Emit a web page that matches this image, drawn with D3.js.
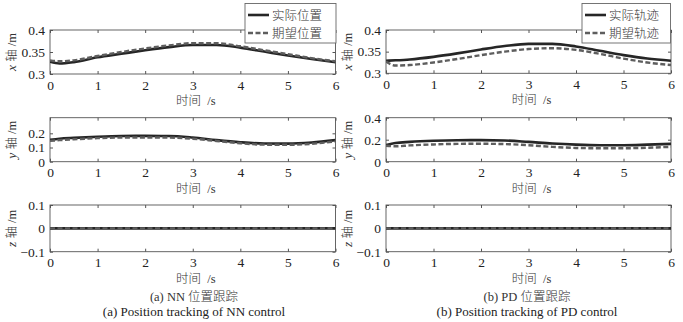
<!DOCTYPE html>
<html>
<head>
<meta charset="utf-8">
<script src="https://cdn.jsdelivr.net/npm/d3@7/dist/d3.min.js"></script>
<style>
  body { margin: 0; background: #fff; }
  svg { display: block; }
  .num { font-family: "Liberation Serif", "Times New Roman", serif; font-size: 13px; fill: #222; }
  .cjk { font-family: "Liberation Serif", "Noto Sans CJK SC", serif; font-size: 12.5px; font-weight: 300; fill: #333; }
  .tick text { font-family: "Liberation Serif", "Times New Roman", serif; font-size: 13.5px; fill: #222; }
</style>
</head>
<body>
<svg id="chart" width="683" height="322"></svg>
<script>
// Sample times (s)
const time = [0, 0.2, 0.5, 1, 1.5, 2, 2.5, 3, 3.5, 4, 4.5, 5, 5.5, 6];

// NN control: actual / desired position (m)
const nnXActual  = [0.328, 0.324, 0.327, 0.338, 0.346, 0.354, 0.361, 0.366, 0.366, 0.360, 0.351, 0.342, 0.334, 0.327];
const nnXDesired = [0.331, 0.329, 0.331, 0.341, 0.350, 0.358, 0.365, 0.370, 0.370, 0.363, 0.354, 0.345, 0.336, 0.329];
const nnYActual  = [0.155, 0.162, 0.168, 0.176, 0.181, 0.182, 0.181, 0.170, 0.152, 0.137, 0.128, 0.127, 0.135, 0.152];
const nnYDesired = [0.147, 0.152, 0.158, 0.166, 0.170, 0.171, 0.170, 0.162, 0.146, 0.130, 0.120, 0.119, 0.126, 0.143];
const nnZActual  = [0, 0, 0, 0, 0, 0, 0, 0, 0, 0, 0, 0, 0, 0];
const nnZDesired = [0, 0, 0, 0, 0, 0, 0, 0, 0, 0, 0, 0, 0, 0];

// PD control: actual / desired trajectory (m)
const pdXActual  = [0.329, 0.330, 0.332, 0.338, 0.346, 0.355, 0.363, 0.368, 0.368, 0.362, 0.352, 0.342, 0.334, 0.329];
const pdXDesired = [0.327, 0.318, 0.319, 0.325, 0.333, 0.342, 0.350, 0.356, 0.358, 0.354, 0.345, 0.334, 0.325, 0.319];
const pdYActual  = [0.150, 0.170, 0.180, 0.190, 0.195, 0.196, 0.193, 0.180, 0.165, 0.155, 0.150, 0.150, 0.155, 0.162];
const pdYDesired = [0.145, 0.140, 0.148, 0.157, 0.162, 0.163, 0.160, 0.150, 0.135, 0.125, 0.122, 0.122, 0.127, 0.135];
const pdZActual  = [0, 0, 0, 0, 0, 0, 0, 0, 0, 0, 0, 0, 0, 0];
const pdZDesired = [0, 0, 0, 0, 0, 0, 0, 0, 0, 0, 0, 0, 0, 0];

// Axis ticks
const timeTicks = [0, 1, 2, 3, 4, 5, 6];
const xTicks = [0.3, 0.35, 0.4];
const nnYTicks = [0, 0.1, 0.2];
const pdYTicks = [0, 0.2, 0.4];
const zTicks = [-0.1, 0, 0.1];

// Labels
const axisNames = ["x", "y", "z"];
const timeLabel = "时间\u00a0\u00a0/s";
const nnLegend = ["实际位置", "期望位置"];
const pdLegend = ["实际轨迹", "期望轨迹"];
const nnCaption = ["(a) NN 位置跟踪", "(a) Position tracking of NN control"];
const pdCaption = ["(b) PD 位置跟踪", "(b) Position tracking of PD control"];

const svg = d3.select("#chart");
const actualStyle = { stroke: "#262626", width: 2.6, dash: null };
const desiredStyle = { stroke: "#5e5e5e", width: 2.4, dash: "5,2.5" };
const serif = "Liberation Serif, Times New Roman, serif";

function fmt(v) {
  if (v === 0) return "0";
  return (v < 0 ? "\u2212" : "") + String(Math.abs(v));
}

function styleTicks(a) {
  a.select(".domain").remove();
  a.selectAll("line").attr("stroke", "#555");
  a.attr("font-family", serif).attr("font-size", 13.5);
}

function panel(opt) {
  const x = d3.scaleLinear().domain([0, 6]).range([opt.left, opt.right]);
  const y = d3.scaleLinear().domain(opt.domain).range([opt.bottom, opt.top]);
  const g = svg.append("g");

  // bottom axis with inward ticks
  g.append("g").attr("transform", `translate(0,${opt.bottom})`)
    .call(d3.axisBottom(x).tickValues(timeTicks).tickSize(-3).tickPadding(6).tickFormat(fmt))
    .call(styleTicks);
  // top ticks
  g.append("g").attr("transform", `translate(0,${opt.top})`)
    .call(d3.axisTop(x).tickValues(timeTicks).tickSize(-3).tickFormat(""))
    .call(styleTicks);
  // left axis
  g.append("g").attr("transform", `translate(${opt.left},0)`)
    .call(d3.axisLeft(y).tickValues(opt.ticks).tickSize(-3).tickPadding(5).tickFormat(fmt))
    .call(styleTicks);
  // right ticks
  g.append("g").attr("transform", `translate(${opt.right},0)`)
    .call(d3.axisRight(y).tickValues(opt.ticks).tickSize(-3).tickFormat(""))
    .call(styleTicks);

  // box
  g.append("rect").attr("x", opt.left).attr("y", opt.top)
    .attr("width", opt.right - opt.left).attr("height", opt.bottom - opt.top)
    .attr("fill", "none").attr("stroke", "#555").attr("stroke-width", 0.9);

  const line = d3.line().x((d, i) => x(time[i])).y(d => y(d)).curve(d3.curveMonotoneX);
  const clipId = "clip" + Math.round(opt.left) + "_" + Math.round(opt.top);
  g.append("clipPath").attr("id", clipId).append("rect")
    .attr("x", opt.left).attr("y", opt.top - 2).attr("width", opt.right - opt.left).attr("height", opt.bottom - opt.top + 4);
  [[opt.actual, actualStyle], [opt.desired, desiredStyle]].forEach(([vals, s]) => {
    g.append("path").datum(vals).attr("d", line)
      .attr("clip-path", `url(#${clipId})`)
      .attr("fill", "none").attr("stroke", s.stroke).attr("stroke-width", s.width)
      .attr("stroke-dasharray", s.dash);
  });

  // y label
  const cy = (opt.top + opt.bottom) / 2;
  const yl = g.append("text").attr("class", "cjk")
    .attr("transform", `translate(${opt.left - opt.ylabOffset},${cy}) rotate(-90)`)
    .attr("text-anchor", "middle").attr("dy", "0.35em");
  yl.append("tspan").attr("font-style", "italic").attr("font-family", serif).attr("font-size", 13.5).text(opt.name);
  yl.append("tspan").text(" 轴 /m");

  // x label
  g.append("text").attr("class", "cjk")
    .attr("x", (opt.left + opt.right) / 2 + 3).attr("y", opt.bottom + 31)
    .attr("text-anchor", "middle").text(timeLabel);
}

function legend(opt) {
  const g = svg.append("g");
  g.append("rect").attr("x", opt.x0).attr("y", 3.5).attr("width", opt.x1 - opt.x0).attr("height", 39.5)
    .attr("fill", "#fff").attr("stroke", "#666").attr("stroke-width", 0.9);
  [[actualStyle, 15], [desiredStyle, 33]].forEach(([s, yy], i) => {
    g.append("line").attr("x1", opt.x0 + 3).attr("x2", opt.x0 + 24).attr("y1", yy).attr("y2", yy)
      .attr("stroke", s.stroke).attr("stroke-width", s.width).attr("stroke-dasharray", s.dash);
    g.append("text").attr("class", "cjk").attr("x", opt.x0 + 27).attr("y", yy).attr("dy", "0.36em")
      .attr("font-size", 13.5).text(opt.labels[i]);
  });
}

function caption(cx, lines) {
  svg.append("text").attr("class", "cjk").attr("x", cx).attr("y", 301).attr("text-anchor", "middle")
    .attr("font-size", 13).text(lines[0]);
  svg.append("text").attr("class", "num").attr("x", cx).attr("y", 316).attr("text-anchor", "middle")
    .attr("font-size", 13).text(lines[1]);
}

const cols = [
  { left: 50, right: 335.5, ylab: 38, yTicks: nnYTicks, yDom: [0, 0.31],
    data: [[nnXActual, nnXDesired], [nnYActual, nnYDesired], [nnZActual, nnZDesired]] },
  { left: 386, right: 671, ylab: 38, yTicks: pdYTicks, yDom: [0, 0.4],
    data: [[pdXActual, pdXDesired], [pdYActual, pdYDesired], [pdZActual, pdZDesired]] }
];
const rows = [
  { top: 30, bottom: 74 },
  { top: 117.7, bottom: 161.7 },
  { top: 205, bottom: 251.7 }
];

cols.forEach((c, ci) => {
  rows.forEach((r, ri) => {
    const domain = ri === 0 ? [0.3, 0.4] : ri === 1 ? c.yDom : [-0.1, 0.1];
    const ticks = ri === 0 ? xTicks : ri === 1 ? c.yTicks : zTicks;
    panel({ left: c.left, right: c.right, top: r.top, bottom: ri === 0 && ci === 1 ? 73.3 : r.bottom,
      domain, ticks, name: axisNames[ri], ylabOffset: c.ylab,
      actual: c.data[ri][0], desired: c.data[ri][1] });
  });
});

legend({ x0: 245, x1: 336, labels: nnLegend });
legend({ x0: 582, x1: 670.5, labels: pdLegend });
caption(194, nnCaption);
caption(527, pdCaption);
</script>
</body>
</html>
